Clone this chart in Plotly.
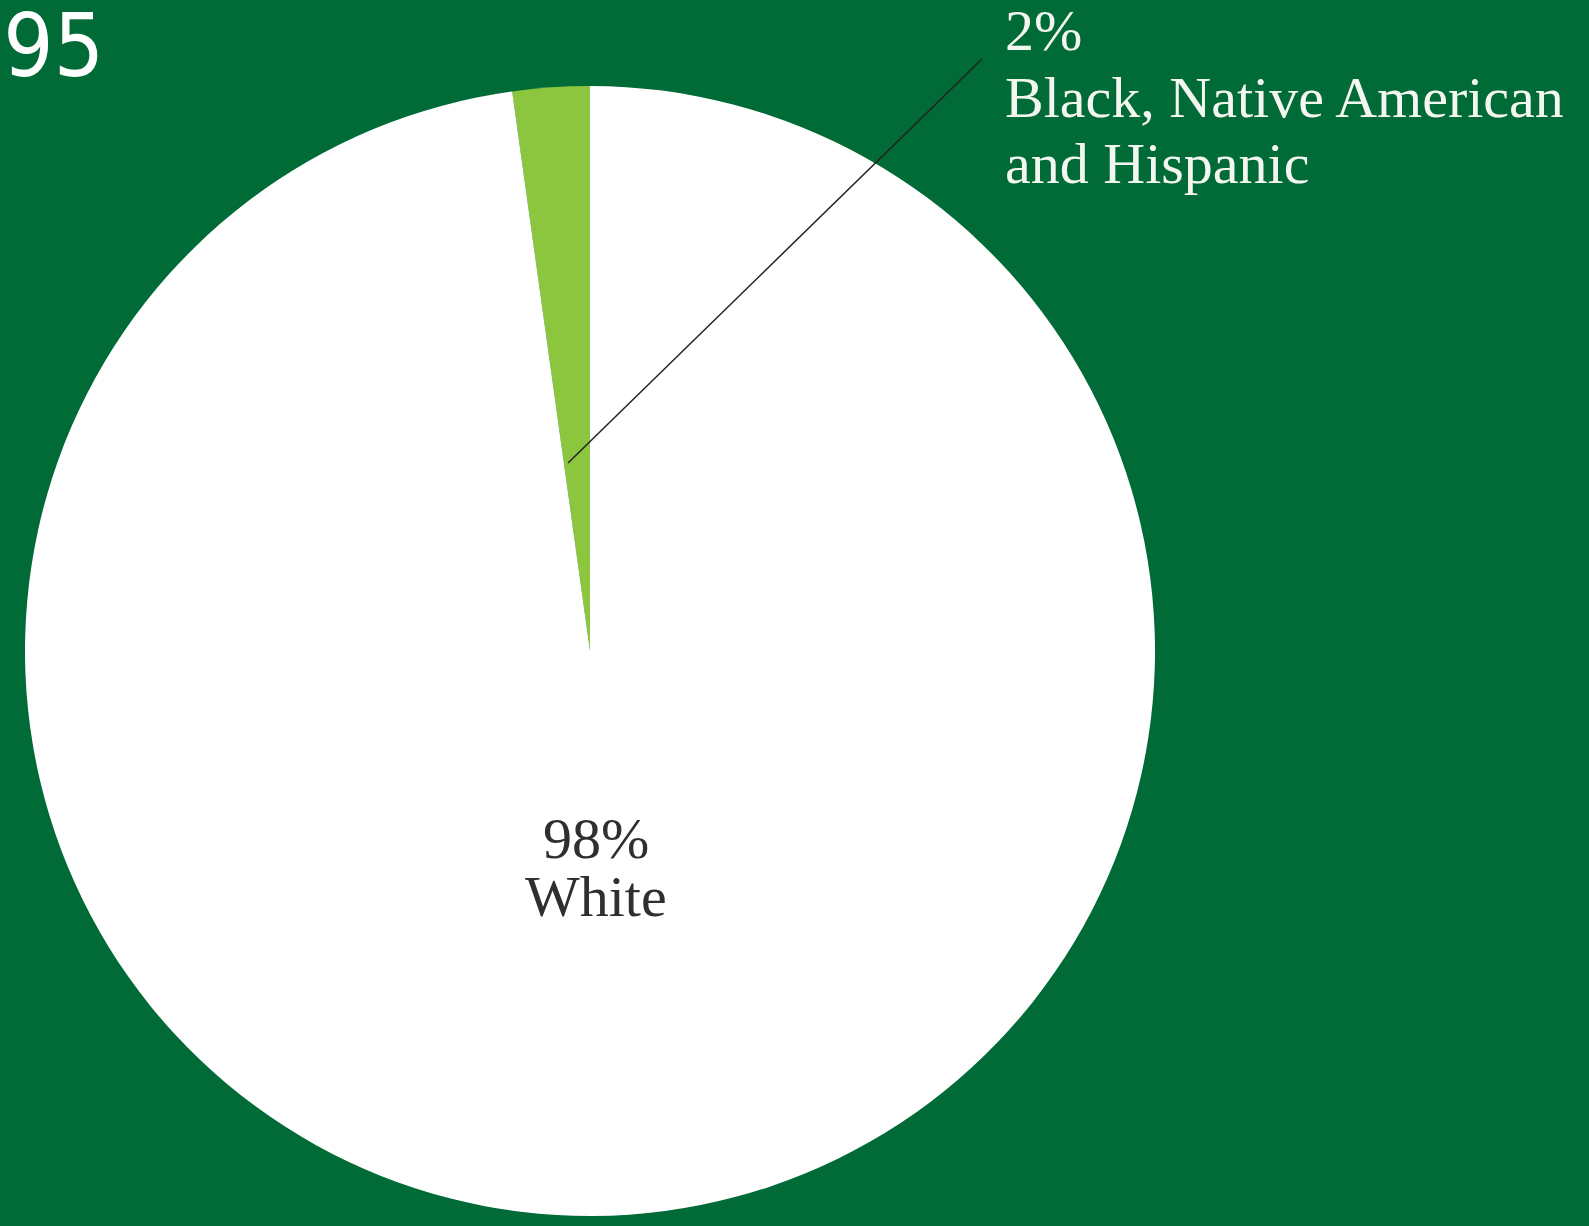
import plotly.graph_objects as go

W, H = 1589, 1226

# Data
categories = ["Black, Native American and Hispanic", "White"]
values = [2.2, 97.8]
pct_labels = ["2%", "98%"]
total_label = "495"

colors = ["#8cc63f", "#ffffff"]
bg = "#016b38"
serif = "Georgia, 'Liberation Serif', 'DejaVu Serif', serif"

def px(x):
    return x / W

def py(y):
    return 1 - y / H

cx, cy, r = 590, 651, 565

fig = go.Figure(go.Pie(
    labels=categories,
    values=values,
    sort=False,
    direction="clockwise",
    rotation=-values[0] / 100 * 360,
    marker=dict(colors=colors, line=dict(width=0)),
    textinfo="none",
    hoverinfo="label+percent",
    showlegend=False,
    domain=dict(x=[px(cx - r), px(cx + r)], y=[py(cy + r), py(cy - r)]),
))

ann = []
# Outside label (small slice)
for text, base in [(pct_labels[0], 51), ("Black, Native American", 118), ("and Hispanic", 184)]:
    ann.append(dict(text=text, x=px(1003), y=py(base - 0.35 * 58), xref="paper", yref="paper",
                    xanchor="left", yanchor="middle", showarrow=False,
                    font=dict(family=serif, size=58, color="#f4f7ef")))
# Inside label (big slice)
for text, base in [(pct_labels[1], 859), (categories[1], 917)]:
    ann.append(dict(text=text, x=px(596), y=py(base - 0.35 * 58), xref="paper", yref="paper",
                    xanchor="center", yanchor="middle", showarrow=False,
                    font=dict(family=serif, size=58, color="#2f2f2f")))
# Cropped total at top-left
ann.append(dict(text=total_label, x=px(106), y=py(45), xref="paper", yref="paper",
                xanchor="right", yanchor="middle", showarrow=False,
                font=dict(family="'Liberation Sans Narrow', 'DejaVu Sans Condensed', 'Roboto Condensed', sans-serif",
                          size=88, color="#ffffff")))

fig.update_layout(
    width=W, height=H,
    margin=dict(l=0, r=0, t=0, b=0),
    paper_bgcolor=bg, plot_bgcolor=bg,
    annotations=ann,
    shapes=[dict(type="line", xref="paper", yref="paper",
                 x0=px(568), y0=py(463), x1=px(982), y1=py(59),
                 line=dict(color="#222222", width=1.5))],
)

fig.write_html("out.html",
               config={"displayModeBar": False},
               post_script="document.body.style.margin='0';document.body.style.overflow='hidden';document.body.style.background='%s';" % bg)
